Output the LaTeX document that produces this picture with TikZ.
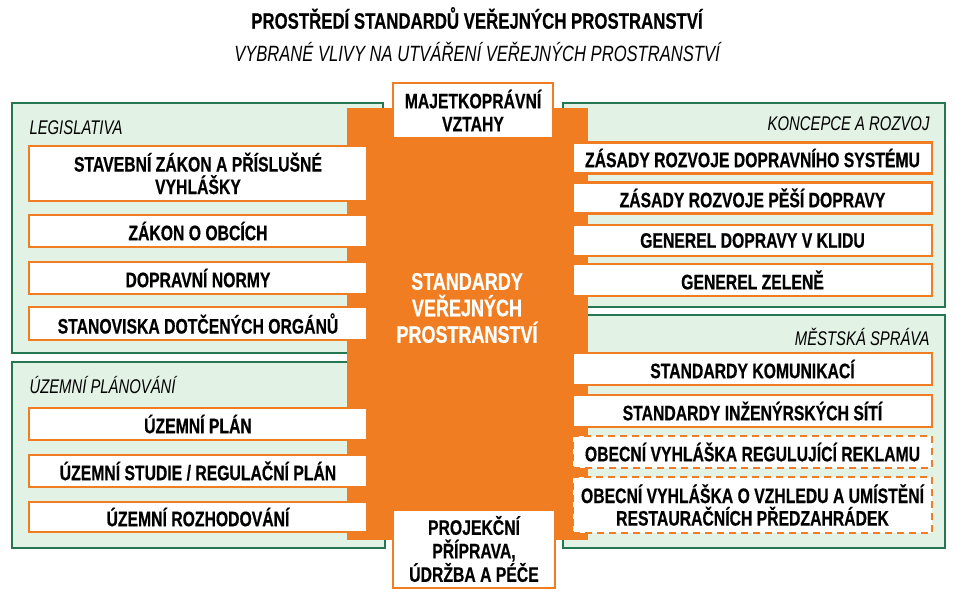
\documentclass[tikz,border=0pt]{standalone}
\usepackage{fontspec}
\setmainfont{Liberation Sans}[FakeStretch=0.75, BoldFeatures={FakeBold=0.5}]
\usepackage{tikz}
\usetikzlibrary{positioning}
\definecolor{oranzova}{RGB}{240,125,34}
\definecolor{zelena}{RGB}{38,118,82}
\definecolor{zelenaSv}{RGB}{226,242,228}
\tikzset{
	skupina/.style={draw=zelena, fill=zelenaSv, line width=1.8pt},
	polozka/.style={draw=oranzova, fill=white, line width=2.2pt, inner sep=0pt, align=center,
		font=\bfseries\fontsize{21}{22.5}\selectfont},
	polozkaCar/.style={polozka, dash pattern=on 7pt off 5pt},
	nadpis/.style={font=\itshape\fontsize{19.8}{22}\selectfont},
	sirokaL/.style={minimum width=338, minimum height=32},
	sirokaP/.style={minimum width=359, minimum height=31}
}
\begin{document}
\begin{tikzpicture}[x=1pt, y=-1pt]
		\useasboundingbox (0,0) rectangle (954,603);
		%\draw [thin, help lines] (0,0) grid (954,603);
		\node[font=\bfseries\fontsize{22.4}{24}\selectfont] (titul) at (477,18) {PROSTŘEDÍ STANDARDŮ VEŘEJNÝCH PROSTRANSTVÍ};
		\node[font=\itshape\fontsize{22.1}{24}\selectfont] (podtitul) at (477,52) {VYBRANÉ VLIVY NA UTVÁŘENÍ VEŘEJNÝCH PROSTRANSTVÍ};
		% skupiny
		\draw[skupina] (12,103) rectangle (383,353);
		\draw[skupina] (12,362) rectangle (385,548);
		\draw[skupina] (563,103) rectangle (945,307);
		\draw[skupina] (563,315) rectangle (945,548);
		\node[nadpis, anchor=west] (legis) at (26,128) {LEGISLATIVA};
		\node[nadpis, anchor=west] (uzplan) at (26,385) {ÚZEMNÍ PLÁNOVÁNÍ};
		\node[nadpis, anchor=east] (koncepce) at (933,124) {KONCEPCE A ROZVOJ};
		\node[nadpis, anchor=east] (sprava) at (933,337) {MĚSTSKÁ SPRÁVA};
		% jadro
		\fill[oranzova] (347,108) rectangle (588,540);
		\node[text=white, align=center, font=\bfseries\fontsize{24}{26.5}\selectfont] (jadro) at (467,308) {STANDARDY\\VEŘEJNÝCH\\PROSTRANSTVÍ};
		% legislativa
		\node[polozka, sirokaL, minimum height=55] (stz) at (198,173.5) {STAVEBNÍ ZÁKON A PŘÍSLUŠNÉ\\VYHLÁŠKY};
		\node[polozka, sirokaL] (zob) at (198,231) {ZÁKON O OBCÍCH};
		\node[polozka, sirokaL] (dnor) at (198,278) {DOPRAVNÍ NORMY};
		\node[polozka, sirokaL, minimum height=33] (stan) at (198,323.5) {STANOVISKA DOTČENÝCH ORGÁNŮ};
		% uzemni planovani
		\node[polozka, sirokaL] (upl) at (198,424) {ÚZEMNÍ PLÁN};
		\node[polozka, sirokaL] (ust) at (198,471) {ÚZEMNÍ STUDIE / REGULAČNÍ PLÁN};
		\node[polozka, sirokaL, minimum height=30] (uroz) at (198,517) {ÚZEMNÍ ROZHODOVÁNÍ};
		% koncepce a rozvoj
		\node[polozka, sirokaP] (zrds) at (752.5,158) {ZÁSADY ROZVOJE DOPRAVNÍHO SYSTÉMU};
		\node[polozka, sirokaP] (zrpd) at (752.5,198) {ZÁSADY ROZVOJE PĚŠÍ DOPRAVY};
		\node[polozka, sirokaP] (gdk) at (752.5,240.5) {GENEREL DOPRAVY V KLIDU};
		\node[polozka, sirokaP, minimum height=32] (gz) at (752.5,280) {GENEREL ZELENĚ};
		% mestska sprava
		\node[polozka, sirokaP, minimum height=32] (skom) at (752.5,369) {STANDARDY KOMUNIKACÍ};
		\node[polozka, sirokaP, minimum height=32] (sis) at (752.5,411) {STANDARDY INŽENÝRSKÝCH SÍTÍ};
		\node[polozkaCar, sirokaP, minimum height=32] (ovr) at (752.5,452) {OBECNÍ VYHLÁŠKA REGULUJÍCÍ REKLAMU};
		\node[polozkaCar, sirokaP, minimum height=56] (ovz) at (752.5,505) {OBECNÍ VYHLÁŠKA O VZHLEDU A UMÍSTĚNÍ\\RESTAURAČNÍCH PŘEDZAHRÁDEK};
		% nahore a dole
		\node[polozka, minimum width=160, minimum height=55, font=\bfseries\fontsize{21}{23}\selectfont] (majet) at (473,110.5) {MAJETKOPRÁVNÍ\\VZTAHY};
		\node[polozka, minimum width=162, minimum height=78, font=\bfseries\fontsize{21}{23.5}\selectfont] (proj) at (474,549) {PROJEKČNÍ\\PŘÍPRAVA,\\ÚDRŽBA A PÉČE};
	\end{tikzpicture}
\end{document}
